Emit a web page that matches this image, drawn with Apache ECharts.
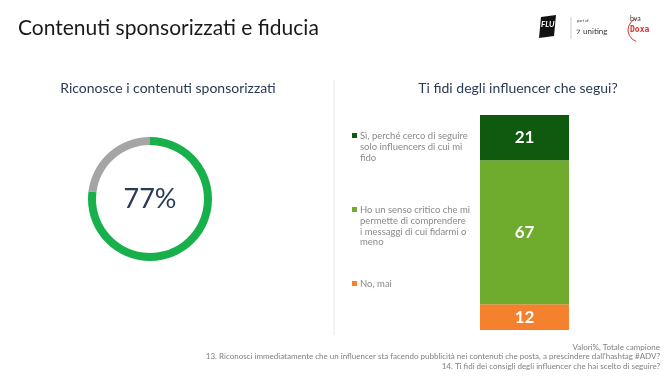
<!DOCTYPE html>
<html>
<head>
<meta charset="utf-8">
<script src="https://cdn.jsdelivr.net/npm/echarts@6/dist/echarts.min.js"></script>
<style>
  html, body { margin: 0; padding: 0; background: #fff; }
  #main { width: 670px; height: 377px; }
</style>
</head>
<body>
<div id="main"></div>
<script>
// donut: riconosce i contenuti sponsorizzati
let donutNames = ['Sì', 'No'];
let donutValues = [77, 23];
let donutColors = ['#17b04b', '#a5a5a5'];

// stacked bar: ti fidi degli influencer che segui? (top to bottom)
let trustNames = [
  'Sì, perché cerco di seguire\nsolo influencers di cui mi\nfido',
  'Ho un senso critico che mi\npermette di comprendere\ni messaggi di cui fidarmi o\nmeno',
  'No, mai'
];
let trustValues = [21, 67, 12];
let trustColors = ['#0f5a0f', '#6fac2e', '#f5812f'];
let legendTops = [131, 205, 279];

let footNotes = [
  'Valori%, Totale campione',
  "13. Riconosci immediatamente che un influencer sta facendo pubblicità nei contenuti che posta, a prescindere dall'hashtag #ADV?",
  '14. Ti fidi dei consigli degli influencer che hai scelto di seguire?'
];

let font = 'Lato';
let myChart = echarts.init(document.getElementById('main'));

// bar series are stacked from the bottom, so reverse the order
let barSeries = [];
for (let i = trustValues.length - 1; i >= 0; i--) {
  barSeries.push({
    name: trustNames[i],
    type: 'bar',
    stack: 'trust',
    barWidth: '100%',
    data: [trustValues[i]],
    itemStyle: { color: trustColors[i] },
    label: {
      show: true,
      position: 'inside',
      color: '#fff',
      fontFamily: font,
      fontWeight: 'bold',
      fontSize: 17
    }
  });
}

let legendGraphics = [];
trustNames.forEach(function (name, i) {
  legendGraphics.push({
    type: 'rect',
    left: 352,
    top: legendTops[i] + 2,
    shape: { width: 5, height: 5 },
    style: { fill: trustColors[i] }
  });
  legendGraphics.push({
    type: 'text',
    left: 360,
    top: legendTops[i],
    style: {
      text: name,
      fill: '#8a8a8a',
      font: '9.5px ' + font,
      lineHeight: 10.6
    }
  });
});

let footGraphics = footNotes.map(function (t, i) {
  return {
    type: 'text',
    right: 10,
    top: 343 + i * 9.5,
    style: { text: t, fill: '#7f7f7f', font: '8px ' + font }
  };
});

myChart.setOption({
  animation: false,
  title: [
    {
      text: 'Contenuti sponsorizzati e fiducia',
      left: 13, top: 13,
      textStyle: { fontFamily: font, fontWeight: 'normal', fontSize: 21, color: '#1a1a1a' }
    },
    {
      text: 'Riconosce i contenuti sponsorizzati',
      left: 163, top: 76, textAlign: 'center',
      textStyle: { fontFamily: font, fontWeight: 'normal', fontSize: 14, color: '#2b3a55' }
    },
    {
      text: 'Ti fidi degli influencer che segui?',
      left: 513, top: 76, textAlign: 'center',
      textStyle: { fontFamily: font, fontWeight: 'normal', fontSize: 14, color: '#2b3a55' }
    }
  ],
  grid: { left: 480, top: 115, width: 89, height: 215 },
  xAxis: { type: 'category', data: [''], show: false },
  yAxis: { type: 'value', min: 0, max: 100, show: false },
  series: barSeries.concat([
    {
      type: 'pie',
      center: [150, 199],
      radius: [54, 62],
      startAngle: 90,
      clockwise: true,
      silent: true,
      labelLine: { show: false },
      data: donutValues.map(function (v, i) {
        return {
          name: donutNames[i],
          value: v,
          itemStyle: { color: donutColors[i] },
          label: i === 0 ? {
            show: true,
            position: 'center',
            formatter: v + '%',
            fontFamily: font,
            fontSize: 27,
            color: '#2b3a55'
          } : { show: false }
        };
      })
    }
  ]),
  graphic: [
    {
      type: 'line',
      shape: { x1: 334, y1: 80, x2: 334, y2: 335 },
      style: { stroke: '#e6e6e6', lineWidth: 1 }
    },
    // logos (approximation)
    {
      type: 'polygon',
      shape: { points: [[541, 17], [556, 15], [554, 36], [539, 38]] },
      style: { fill: '#111' }
    },
    {
      type: 'text', left: 541, top: 20,
      style: { text: 'FLU', fill: '#fff', font: 'italic bold 8px ' + font }
    },
    {
      type: 'line',
      shape: { x1: 571, y1: 17, x2: 571, y2: 39 },
      style: { stroke: '#ccc', lineWidth: 1 }
    },
    {
      type: 'text', left: 577, top: 19,
      style: { text: 'part of', fill: '#444', font: '4px ' + font }
    },
    {
      type: 'text', left: 576, top: 27,
      style: { text: '⁊ uniting', fill: '#333', font: '8px ' + font }
    },
    {
      type: 'text', left: 630, top: 15,
      style: { text: 'bva', fill: '#333', font: '7px ' + font }
    },
    {
      type: 'arc',
      shape: { cx: 640, cy: 30, r: 12, startAngle: Math.PI * 0.6, endAngle: Math.PI * 1.4 },
      style: { stroke: '#e0302f', lineWidth: 1, fill: null }
    },
    {
      type: 'text', left: 630, top: 26,
      style: { text: 'Doxa', fill: '#e0302f', font: 'bold 8px "DejaVu Sans Mono"' }
    }
  ].concat(legendGraphics, footGraphics)
});
</script>
</body>
</html>
